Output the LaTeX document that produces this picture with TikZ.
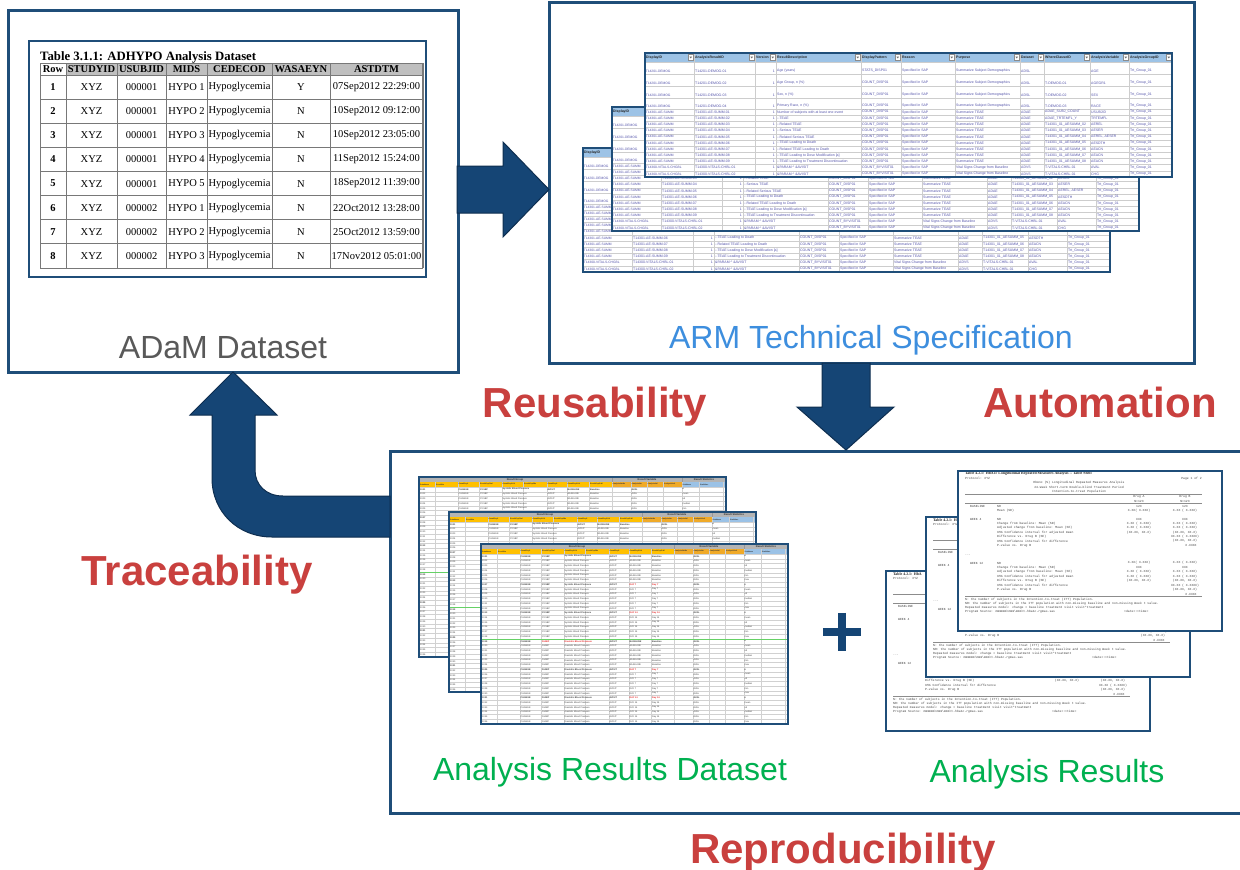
\documentclass[tikz,border=0pt]{standalone}
\usepackage{fontspec}
\setmainfont{Liberation Sans}
\newfontfamily\tabserif{Liberation Serif}
\newfontfamily\pagemono{Liberation Mono}
\definecolor{frameblue}{RGB}{31,78,121}
\definecolor{arrowblue}{RGB}{21,69,117}
\definecolor{arrowedge}{RGB}{14,46,80}
\definecolor{lblred}{RGB}{201,64,62}
\definecolor{lblgreen}{RGB}{0,176,80}
\definecolor{lblblue}{RGB}{61,142,222}
\definecolor{lblgray}{RGB}{89,89,89}
\definecolor{hdrgray}{RGB}{191,191,191}
\definecolor{gridgray}{RGB}{120,120,120}
\definecolor{armhdr}{RGB}{157,195,230}
\definecolor{armtxt}{RGB}{84,84,170}
\definecolor{armgridc}{RGB}{205,205,205}
\definecolor{ardyel}{RGB}{255,192,0}
\definecolor{ardorg}{RGB}{240,170,40}
\definecolor{ardblu}{RGB}{155,194,230}
\definecolor{ardgray}{RGB}{180,180,180}
\definecolor{ardred}{RGB}{230,40,40}
\tikzset{
  bigbox/.style={draw=frameblue, line width=3pt, fill=white, inner sep=0pt, outer sep=0pt},
  lbl/.style={font=\fontsize{32}{36}\selectfont, anchor=base, inner sep=0pt},
  redlbl/.style={font=\bfseries\fontsize{42}{46}\selectfont, text=lblred, anchor=base, inner sep=0pt},
  blockarrow/.style={fill=arrowblue, draw=arrowedge, line width=1pt, line join=miter},
  th/.style={font=\tabserif\bfseries\fontsize{10.5}{11}\selectfont, inner sep=0pt},
  td/.style={font=\tabserif\fontsize{10.5}{11}\selectfont, inner sep=0pt},
  tdb/.style={font=\tabserif\bfseries\fontsize{10.5}{11}\selectfont, inner sep=0pt},
  tgrid/.style={draw=gridgray, line width=1pt},
  armt/.style={anchor=west, inner sep=0pt, font=\fontsize{3.5}{3.5}\selectfont, text=armtxt},
  armtz/.style={anchor=west, inner sep=0pt, font=\fontsize{3.3}{3.3}\selectfont, text=armtxt},
  armh/.style={anchor=west, inner sep=0pt, font=\bfseries\fontsize{3.5}{3.5}\selectfont, text=black!85},
  armgrid/.style={draw=armgridc, line width=0.4pt},
  ardt/.style={anchor=west, inner sep=0pt, font=\fontsize{2.3}{2.3}\selectfont},
  ardh/.style={inner sep=0pt, font=\bfseries\fontsize{2.6}{2.6}\selectfont, text=black!80},
  ardgrid/.style={draw=black!18, line width=0.3pt},
  rt/.style={anchor=west, inner sep=0pt, font=\pagemono\fontsize{3.1}{3.1}\selectfont, text=black!75},
  rtb/.style={anchor=west, inner sep=0pt, font=\tabserif\bfseries\fontsize{3.9}{3.9}\selectfont, text=black!85},
  rl/.style={draw=black!45, line width=0.5pt},
  sheetframe/.style={draw=frameblue, line width=2.5pt}
}
% ---------- ARM sheet (#3 = rows below this y are fully visible) ----------
\newcommand\armrow[9]{%
  \node[armtz] at (0.6,#1) {#2};
  \ifdim #1pt>\armthr pt
  \node[armt] at (50,#1) {#3};
  \node[armt,anchor=east] at (130,#1) {1};
  \node[armt] at (132,#1) {#4};
  \node[armt] at (217,#1) {#5};
  \node[armt] at (257,#1) {Specified in SAP};
  \node[armt] at (311,#1) {#6};
  \node[armt] at (376,#1) {#7};
  \node[armt] at (400,#1) {#8};
  \node[armt] at (446,#1) {#9};
  \node[armt] at (485,#1) {Trt\_Group\_01};
  \fi}
\newcommand\armsheet[3]{%
\begin{scope}[shift={(#1,#2)}]
  \def\armthr{#3}
  \fill[white] (0,0) rectangle (527,124);
  \fill[armhdr] (0,0) rectangle (527,9);
  \foreach \xx in {49,110,131,216,256,310,375,399,445,484} \draw[armgrid] (\xx,0) -- (\xx,124);
  \foreach \yy in {9,21,33,45,56} \draw[armgrid] (0,\yy) -- (527,\yy);
  \foreach \kk in {1,...,10} \draw[armgrid] (0,{56+6.18*\kk}) -- (527,{56+6.18*\kk});
  \foreach \xx in {49,110,131,216,256,310,375,399,445,484,527}
    {\draw[black!45, fill=white, line width=0.3pt] (\xx-5.5,1.5) rectangle (\xx-1,7.5);
     \fill[black!60] (\xx-4.6,3.6) -- (\xx-1.9,3.6) -- (\xx-3.25,5.4) -- cycle;}
  \node[armh] at (1,4.5) {DisplayID};
  \ifdim #3pt<0pt
  \foreach \xx/\lab in {50/AnalysisResultID,111/Version,132/ResultDescription,217/DisplayPattern,257/Reason,311/Purpose,376/Dataset,400/WhereClauseID,446/AnalysisVariable,485/AnalysisGroupID}
    \node[armh] at (\xx,4.5) {\lab};
  \fi
  \armrow{18}{T14201-DEMOG}{T14201-DEMOG-01}{Age (years)}{STATS\_DISP01}{Summarize Subject Demographics}{ADSL}{}{AGE}
  \armrow{30}{T14201-DEMOG}{T14201-DEMOG-02}{Age Group, n (\%)}{COUNT\_DISP01}{Summarize Subject Demographics}{ADSL}{T-DEMOG-01}{AGEGR1}
  \armrow{42}{T14201-DEMOG}{T14201-DEMOG-03}{Sex, n (\%)}{COUNT\_DISP01}{Summarize Subject Demographics}{ADSL}{T-DEMOG-02}{SEX}
  \armrow{53}{T14201-DEMOG}{T14201-DEMOG-04}{Primary Race, n (\%)}{COUNT\_DISP01}{Summarize Subject Demographics}{ADSL}{T-DEMOG-03}{RACE}
  \armrow{59.1}{T14301-AE-SUMM}{T14301-AE-SUMM-01}{Number of subjects with at least one event}{COUNT\_DISP01}{Summarize TEAE}{ADAE}{ADAE\_SUBJ\_COUNT}{USUBJID}
  \armrow{65.3}{T14301-AE-SUMM}{T14301-AE-SUMM-02}{-{}-TEAE}{COUNT\_DISP01}{Summarize TEAE}{ADAE}{ADAE\_TRTEMFL\_Y}{TRTEMFL}
  \armrow{71.5}{T14301-AE-SUMM}{T14301-AE-SUMM-03}{-{}-Related TEAE}{COUNT\_DISP01}{Summarize TEAE}{ADAE}{T14301\_01\_AESUMM\_02}{AEREL}
  \armrow{77.6}{T14301-AE-SUMM}{T14301-AE-SUMM-04}{-{}-Serious TEAE}{COUNT\_DISP01}{Summarize TEAE}{ADAE}{T14301\_01\_AESUMM\_03}{AESER}
  \armrow{83.8}{T14301-AE-SUMM}{T14301-AE-SUMM-05}{-{}-Related Serious TEAE}{COUNT\_DISP01}{Summarize TEAE}{ADAE}{T14301\_01\_AESUMM\_04}{AEREL, AESER}
  \armrow{90}{T14301-AE-SUMM}{T14301-AE-SUMM-06}{-{}-TEAE Leading to Death}{COUNT\_DISP01}{Summarize TEAE}{ADAE}{T14301\_01\_AESUMM\_05}{AESDTH}
  \armrow{96.2}{T14301-AE-SUMM}{T14301-AE-SUMM-07}{-{}-Related TEAE Leading to Death}{COUNT\_DISP01}{Summarize TEAE}{ADAE}{T14301\_01\_AESUMM\_06}{AEACN}
  \armrow{102.4}{T14301-AE-SUMM}{T14301-AE-SUMM-08}{-{}-TEAE Leading to Dose Modification [a]}{COUNT\_DISP01}{Summarize TEAE}{ADAE}{T14301\_01\_AESUMM\_07}{AEACN}
  \armrow{108.6}{T14301-AE-SUMM}{T14301-AE-SUMM-09}{-{}-TEAE Leading to Treatment Discontinuation}{COUNT\_DISP01}{Summarize TEAE}{ADAE}{T14301\_01\_AESUMM\_08}{AEACN}
  \armrow{114.7}{T14300-VITALS-CHGBL}{T14300-VITALS-CHBL-01}{\&PARAM \textasciicircum{} \&AVISIT}{COUNT\_BYVISIT01}{Vital Signs Change from Baseline}{ADVS}{T-VITALS-CHBL-01}{AVAL}
  \armrow{120.9}{T14300-VITALS-CHGBL}{T14300-VITALS-CHBL-02}{\&PARAM \textasciicircum{} \&AVISIT}{COUNT\_BYVISIT01}{Vital Signs Change from Baseline}{ADVS}{T-VITALS-CHBL-01}{CHG}
  \draw[sheetframe] (0,0) rectangle (527,124);
\end{scope}}
% ---------- ARD sheet (#3 = last fully visible row) ----------
\newcommand\ardsheet[3]{%
\begin{scope}[shift={(#1,#2)}]
  \fill[white] (0,0) rectangle (307,180);
  \fill[ardgray] (0,0) rectangle (307,5);
  \fill[ardyel] (0,5) rectangle (192.7,10);
  \fill[ardorg] (192.7,5) rectangle (262.7,10);
  \fill[ardblu] (262.7,5) rectangle (307,10);
  \draw[black!40, line width=0.3pt] (192.7,0) -- (192.7,5) (262.7,0) -- (262.7,5);
  \node[ardh] at (96,2.5) {Result Group};
  \node[ardh] at (228,2.5) {Result Variable};
  \node[ardh] at (285,2.5) {Result Statistics};
  \foreach \xx in {16,38.7,60.3,82.7,104.3,127.7,147.7,170,192.7,211.7,227.7,244.3,262.7,280.3,304.3} \draw[ardgrid] (\xx,5) -- (\xx,180);
  \foreach \kk in {0,...,35} \draw[ardgrid] (0,{10+4.72*\kk}) -- (307,{10+4.72*\kk});
  \foreach \xx/\lab in {1/DataName,17/ResultNo,39.5/ResultGrp1,61/ResultGrp1Val,83.5/ResultGrp1Lbl,105/ResultGrp2No,128.5/ResultGrp2,148.5/ResultGrp2Val,171/ResultGrp2Lbl,193.5/AnalysisVarNo,212.5/AnalysisVar,228.5/AnalysisVal,245/AnalysisUnit,263.5/StatName,281/StatValue}
    \node[ardt, text=black!80, font=\bfseries\fontsize{1.8}{1.8}\selectfont] at (\xx,7.5) {\lab};
  \foreach \r in {0,...,35}{
    \pgfmathtruncatemacro\blk{\r/6}
    \pgfmathtruncatemacro\sub{mod(\r,6)}
    \pgfmathsetmacro\yy{10+4.72*(\r+0.5)}
    \pgfmathtruncatemacro\rn{1001+\r}
    \ifnum\sub=0 \def\ardf{\bfseries}\else\def\ardf{}\fi
    \ifcase\blk \def\vis{BASELINE}\def\visl{Baseline}\or
      \def\vis{DAY 7}\def\visl{Day 7}\or \def\vis{DAY 14}\def\visl{Day 14}\or
      \def\vis{BASELINE}\def\visl{Baseline}\or \def\vis{DAY 7}\def\visl{Day 7}\or
      \def\vis{DAY 14}\def\visl{Day 14}\fi
    \ifnum\blk<3 \def\prm{SYSBP}\def\prml{Systolic Blood Pressure}\else\def\prm{DIABP}\def\prml{Diastolic Blood Pressure}\fi
    \def\vcol{black!75}\def\pcol{black!75}
    \ifnum\sub=0 \ifnum\blk=0 \else\ifnum\blk=3 \def\pcol{ardred}\else\def\vcol{ardred}\fi\fi\fi
    \node[ardt, text=black!75] at (1,\yy) {\ardf\rn};
    \ifnum\r>#3 \else
    \node[ardt, text=black!75] at (39.5,\yy) {\ardf CHANGE};
    \node[ardt, text=\pcol] at (61,\yy) {\ardf\prm};
    \node[ardt, text=\pcol] at (83.5,\yy) {\ardf\prml};
    \node[ardt, text=black!75] at (128.5,\yy) {\ardf AVISIT};
    \node[ardt, text=\vcol] at (148.5,\yy) {\ardf\vis};
    \node[ardt, text=\vcol] at (171,\yy) {\ardf\visl};
    \node[ardt, text=black!75] at (212.5,\yy) {\ardf AVAL};
    \node[ardt, text=black!75] at (263.5,\yy) {\ardf\ifcase\sub n\or mean\or sd\or median\or min\or max\fi};
    \node[ardt, text=black!75] at (284,\yy) {\ardf\ifcase\sub 24\or 0.1234\or 0.5678\or 0.1234\or -1.23\or 2.34\fi};
    \fi
  }
  \draw[green!70!black!60, line width=0.5pt] (0,95) -- (307,95);
  \draw[frameblue, line width=2pt] (0,0) rectangle (307,180);
\end{scope}}
% ---------- Analysis results page ----------
\newcommand\rrow[4]{%
  \node[rt] at (39,#1) {#2};
  \node[rt,anchor=center] at (181,#1) {#3};
  \node[rt,anchor=center] at (227,#1) {#4};}
\newcommand\respagebase{%
  \fill[white] (0,0) rectangle (264,160);
  \draw[rl] (7,23) -- (244,23);
  \draw[rl] (7,32.5) -- (244,32.5);
  \draw[rl] (7,125.5) -- (244,125.5);}
\newcommand\resleft[1]{%
  \node[rtb] at (7,3) {#1};
  \node[rt] at (7,7.5) {Protocol: XYZ};
  \node[rt] at (12,35.5) {BASELINE};
  \node[rt] at (12,48) {WEEK 4};
  \node[rt] at (7,84) {...};
  \node[rt] at (12,92) {WEEK 12};}
\newcommand\reslowA{%
  \rrow{110}{Difference vs. Drug B (SE)}{(XX.XX, XX.X)}{(XX.XX, XX.X)}}
\newcommand\reslowB{%
  \rrow{114.5}{95\% Confidence interval for difference}{}{XX.XX ( X.XXXX)}
  \rrow{118.9}{P-value vs. Drug B}{}{(XX.XX, XX.X)}
  \rrow{123.3}{}{}{\hspace{12pt}X.XXXX}}
\newcommand\resfoot{%
  \node[rt] at (7,128.3) {N: the number of subjects in the Intention-to-treat (ITT) Population.};
  \node[rt] at (7,132.3) {NR: the number of subjects in the ITT population with non-missing baseline and non-missing Week t value.};
  \node[rt] at (7,136.3) {Repeated measures model: change = baseline treatment visit visit*treatment};
  \node[rt] at (7,140.5) {Program Source: mmmmmm\textbackslash mmm\textbackslash mmm\textbackslash t-hba1c-rgmas.sas};
  \node[rt] at (166,140.5) {<date>:<time>};}
\newcommand\respagefront[2]{%
\begin{scope}[shift={(#1,#2)}]
  \respagebase
  \resleft{Table 4.2.1: HbA1c Longitudinal Repeated Measures Analysis -- Table Shell}
  \node[rt,anchor=east] at (244,7.5) {Page 1 of 2};
  \node[rt,anchor=center] at (121,12) {HbA1c (\%) Longitudinal Repeated Measures Analysis};
  \node[rt,anchor=center] at (121,16.3) {24-Week Short-term Double-blind Treatment Period};
  \node[rt,anchor=center] at (121,20.6) {Intention-to-treat Population};
  \node[rt,anchor=center] at (181,26) {Drug A};
  \node[rt,anchor=center] at (227,26) {Drug B};
  \node[rt,anchor=center] at (181,30) {N=123};
  \node[rt,anchor=center] at (227,30) {N=123};
  \rrow{35.5}{NR}{123}{123}
  \rrow{39.5}{Mean (SD)}{X.XX( X.XXX)}{X.XX ( X.XXX)}
  \rrow{48}{NR}{XXX}{XXX}
  \rrow{52.7}{Change from baseline: Mean (SD)}{X.XX ( X.XXX)}{X.XX ( X.XXX)}
  \rrow{56.8}{Adjusted change from baseline: Mean (SE)}{X.XX ( X.XXX)}{X.XX ( X.XXX)}
  \rrow{61.2}{95\% Confidence interval for adjusted mean}{(XX.XX, XX.X)}{(XX.XX, XX.X)}
  \rrow{65.6}{Difference vs. Drug B (SE)}{}{XX.XX ( X.XXXX)}
  \rrow{69.9}{95\% Confidence interval for difference}{}{(XX.XX, XX.X)}
  \rrow{74.3}{P-value vs. Drug B}{}{\hspace{12pt}X.XXXX}
  \rrow{92}{NR}{X.XX( X.XXX)}{X.XX ( X.XXX)}
  \rrow{96.6}{Change from baseline: Mean (SD)}{XXX}{XXX}
  \rrow{101}{Adjusted change from baseline: Mean (SE)}{X.XX ( X.XXX)}{X.XX ( X.XXX)}
  \rrow{105.5}{95\% Confidence interval for adjusted mean}{X.XX ( X.XXX)}{X.XX ( X.XXX)}
  \reslowA
  \reslowB
  \resfoot
  \draw[sheetframe] (0,0) rectangle (264,160);
\end{scope}}
\newcommand\respagemid[2]{%
\begin{scope}[shift={(#1,#2)}]
  \respagebase
  \resleft{Table 4.2.1: H}
  \reslowB
  \resfoot
  \draw[sheetframe] (0,0) rectangle (264,160);
\end{scope}}
\newcommand\respageback[2]{%
\begin{scope}[shift={(#1,#2)}]
  \respagebase
  \resleft{Table 4.2.1: HbA}
  \reslowA
  \reslowB
  \resfoot
  \draw[sheetframe] (0,0) rectangle (264,160);
\end{scope}}

\begin{document}
\begin{tikzpicture}[x=1pt,y=-1pt]
\clip (0,0) rectangle (1240,870);
\fill[white] (0,0) rectangle (1240,870);

% ===== three main boxes =====
\node[bigbox, minimum width=450pt, minimum height=362pt] (adam) at (233,191) {};
\node[bigbox, minimum width=645pt, minimum height=361pt] (arm) at (871.5,182.5) {};
\node[bigbox, minimum width=870pt, minimum height=362pt] (res) at (825,632) {};

% ===== ADaM table =====
\draw[frameblue, line width=2pt] (29,41) rectangle (426,277);
\node[anchor=base west, inner sep=0pt, font=\tabserif\bfseries\fontsize{12.75}{14}\selectfont] (ttl) at (40,60) {Table 3.1.1: ADHYPO Analysis Dataset};
\fill[hdrgray] (66,63) rectangle (423,75);
\foreach \xx in {40,66,117,166,207,272,330} \draw[tgrid] (\xx,63) -- (\xx,268);
\draw[gridgray, line width=1.8pt] (423,63) -- (423,268);
\draw[tgrid] (40,63) -- (423,63);
\foreach \ii in {0,...,8} \draw[tgrid] (40,{75+24.125*\ii}) -- (423,{75+24.125*\ii});
\foreach \xx/\lab in {53/Row,91.5/STUDYID,141.5/USUBJID,186.5/MIDS,239.5/CEDECOD,301/WASAEYN,376.5/ASTDTM}
  \node[th] at (\xx,69.5) {\lab};
\foreach \ri/\us/\hm/\wa/\dt in {1/000001/1/Y/07Sep2012 22:29:00, 2/000001/2/N/10Sep2012 09:12:00, 3/000001/3/N/10Sep2012 23:05:00, 4/000001/4/N/11Sep2012 15:24:00, 5/000001/5/N/18Sep2012 11:39:00, 6/000002/1/N/22Oct2012 13:28:00, 7/000002/2/N/25Oct2012 13:59:00, 8/000002/3/N/17Nov2012 05:01:00}{
  \pgfmathsetmacro\yy{75+24.125*(\ri-0.5)}
  \node[tdb] at (53,\yy) {\ri};
  \node[td] at (91.5,\yy) {XYZ};
  \node[td] at (141.5,\yy) {\us};
  \node[td] at (186.5,\yy) {HYPO \hm};
  \node[td] at (239.5,\yy) {Hypoglycemia};
  \node[td] at (301,\yy) {\wa};
  \node[td] at (376.5,\yy) {\dt};
}
\node[lbl, text=lblgray] (adamlbl) at (223,358) {ADaM Dataset};

% ===== ARM sheets =====
\armsheet{583}{148}{84}
\armsheet{612}{107}{70}
\armsheet{645}{53}{-1}
\node[lbl, text=lblblue] (armlbl) at (871,348) {ARM Technical Specification};

% ===== ARD sheets =====
\ardsheet{419}{477}{4}
\ardsheet{449}{512}{3}
\ardsheet{481}{544}{35}
\node[lbl, text=lblgreen] (ardlbl) at (610,780) {Analysis Results Dataset};

% ===== Analysis result pages =====
\respageback{886}{571}
\respagemid{926}{517}
\respagefront{958}{471}
\node[lbl, text=lblgreen] (arlbl) at (1047,782) {Analysis Results};

% plus sign
\node[inner sep=0pt, minimum size=38pt] (plus) at (842,632) {};
\draw[arrowblue, line width=8pt] (plus.west) -- (plus.east) (plus.north) -- (plus.south);

% ===== block arrows =====
\path[blockarrow] (457,166) -- (503,166) -- (503,142) -- (549,189.5) -- (503,237) -- (503,213) -- (457,213) -- cycle;
\path[blockarrow] (822,363) -- (870,363) -- (870,407) -- (894,407) -- (846,450) -- (797,407) -- (822,407) -- cycle;
\path[blockarrow] (390,496) -- (283,496) .. controls (266,496) and (255,485) .. (255,470) -- (255,415) -- (277,415) -- (233,372) -- (190,415) -- (212,415) -- (212,478) .. controls (212,512) and (238,537) .. (272,537) -- (390,537) -- cycle;

% ===== red labels =====
\node[redlbl] (reuse) at (595,417) {Reusability};
\node[redlbl] (auto) at (1100,417) {Automation};
\node[redlbl] (trace) at (197,585) {Traceability};
\node[redlbl] (repro) at (843,863) {Reproducibility};
\end{tikzpicture}
\end{document}
